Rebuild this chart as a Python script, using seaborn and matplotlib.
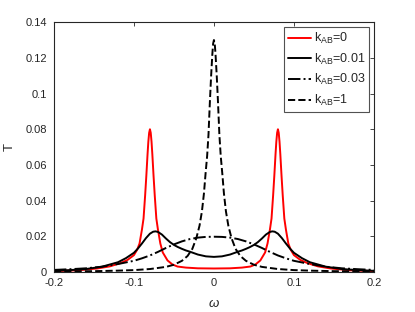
import matplotlib
matplotlib.use("Agg")
import matplotlib.pyplot as plt
import seaborn as sns
import pandas as pd

# ---- data ----
omega_k0 = [-0.2, -0.17, -0.146, -0.13, -0.117, -0.108, -0.1, -0.096, -0.093, -0.09, -0.088, -0.086,
            -0.0845, -0.083, -0.082, -0.081, -0.08, -0.079, -0.078, -0.077, -0.0755, -0.074, -0.072,
            -0.07, -0.067, -0.064, -0.058, -0.052, -0.0456, -0.035, -0.02, 0.0,
            0.02, 0.035, 0.0456, 0.052, 0.058, 0.064, 0.067, 0.07, 0.072, 0.074, 0.0755, 0.077,
            0.078, 0.079, 0.08, 0.081, 0.082, 0.083, 0.0845, 0.086, 0.088, 0.09, 0.093, 0.096,
            0.1, 0.108, 0.117, 0.13, 0.146, 0.17, 0.2]
T_k0 = [0.0005, 0.001, 0.002, 0.0032, 0.005, 0.0068, 0.0095, 0.0125, 0.016, 0.0238, 0.030, 0.043,
        0.054, 0.066, 0.073, 0.078, 0.080, 0.078, 0.073, 0.066, 0.054, 0.043, 0.030,
        0.0238, 0.016, 0.011, 0.0065, 0.0043, 0.0031, 0.0025, 0.0021, 0.002,
        0.0021, 0.0025, 0.0031, 0.0043, 0.0065, 0.011, 0.016, 0.0238, 0.030, 0.043, 0.054, 0.066,
        0.073, 0.078, 0.080, 0.078, 0.073, 0.066, 0.054, 0.043, 0.030, 0.0238, 0.016, 0.0125,
        0.0095, 0.0068, 0.005, 0.0032, 0.002, 0.001, 0.0005]

omega_k001 = [-0.2, -0.18, -0.16, -0.14, -0.12, -0.11, -0.1, -0.095, -0.09, -0.085, -0.08, -0.076,
              -0.073, -0.07, -0.065, -0.06, -0.055, -0.05, -0.045, -0.04, -0.035, -0.03, -0.02,
              -0.01, 0.0, 0.01, 0.02, 0.03, 0.035, 0.04, 0.045, 0.05, 0.055, 0.06, 0.065, 0.07,
              0.073, 0.076, 0.08, 0.085, 0.09, 0.095, 0.1, 0.11, 0.12, 0.14, 0.16, 0.18, 0.2]
T_k001 = [0.0007, 0.0011, 0.0017, 0.003, 0.0055, 0.0078, 0.0108, 0.0132, 0.016, 0.019, 0.0215, 0.0226,
          0.0228, 0.0225, 0.021, 0.0188, 0.0168, 0.0152, 0.014, 0.013, 0.0121, 0.0114, 0.0098,
          0.0088, 0.0085, 0.0088, 0.0098, 0.0114, 0.0121, 0.013, 0.014, 0.0152, 0.0168, 0.0188,
          0.021, 0.0225, 0.0228, 0.0226, 0.0215, 0.019, 0.016, 0.0132, 0.0108, 0.0078, 0.0055,
          0.003, 0.0017, 0.0011, 0.0007]

omega_k003 = [-0.2, -0.18, -0.16, -0.14, -0.12, -0.1, -0.09, -0.08, -0.07, -0.06, -0.05, -0.04,
              -0.03, -0.02, -0.01, 0.0, 0.01, 0.02, 0.03, 0.04, 0.05, 0.06, 0.07, 0.08, 0.09,
              0.1, 0.12, 0.14, 0.16, 0.18, 0.2]
T_k003 = [0.0012, 0.0016, 0.0021, 0.003, 0.0045, 0.0063, 0.0077, 0.0093, 0.0113, 0.0135, 0.0155,
          0.0172, 0.0185, 0.0193, 0.0197, 0.0198, 0.0197, 0.0193, 0.0185, 0.0172, 0.0155, 0.0135,
          0.0113, 0.0093, 0.0077, 0.0063, 0.0045, 0.003, 0.0021, 0.0016, 0.0012]

omega_k1 = [-0.2, -0.15, -0.12, -0.1, -0.08, -0.06, -0.05, -0.04, -0.033, -0.027, -0.022, -0.018,
            -0.015, -0.0125, -0.0105, -0.0085, -0.0068, -0.005, -0.0035, -0.002, -0.001, 0.0,
            0.001, 0.002, 0.0035, 0.005, 0.0068, 0.0085, 0.0105, 0.0125, 0.015, 0.018, 0.022,
            0.027, 0.033, 0.04, 0.05, 0.06, 0.08, 0.1, 0.12, 0.15, 0.2]
T_k1 = [0.0003, 0.0005, 0.0008, 0.0011, 0.0017, 0.0029, 0.0041, 0.0063, 0.009, 0.013, 0.019, 0.026,
        0.034, 0.044, 0.055, 0.065, 0.077, 0.096, 0.110, 0.122, 0.128, 0.130,
        0.128, 0.122, 0.110, 0.096, 0.077, 0.065, 0.055, 0.044, 0.034, 0.026, 0.019,
        0.013, 0.009, 0.0063, 0.0041, 0.0029, 0.0017, 0.0011, 0.0008, 0.0005, 0.0003]

labels = [r"k$_{\mathrm{AB}}$=0", r"k$_{\mathrm{AB}}$=0.01",
          r"k$_{\mathrm{AB}}$=0.03", r"k$_{\mathrm{AB}}$=1"]
x_ticks = [-0.2, -0.1, 0, 0.1, 0.2]
x_tick_labels = ["-0.2", "-0.1", "0", "0.1", "0.2"]
y_ticks = [0, 0.02, 0.04, 0.06, 0.08, 0.1, 0.12, 0.14]
y_tick_labels = ["0", "0.02", "0.04", "0.06", "0.08", "0.1", "0.12", "0.14"]

# ---- styling ----
sns.set_style("white")
plt.rcParams["font.family"] = ["Liberation Sans", "DejaVu Sans"]
plt.rcParams["mathtext.fontset"] = "custom"
plt.rcParams["mathtext.rm"] = "Liberation Sans"
plt.rcParams["mathtext.it"] = "Liberation Sans:italic"

fig = plt.figure(figsize=(4.15, 3.12), dpi=100)
ax = fig.add_axes([0.130, 0.128, 0.771, 0.801])

series = [
    (omega_k0, T_k0, labels[0], "#ff0000", "-"),
    (omega_k001, T_k001, labels[1], "black", "-"),
    (omega_k003, T_k003, labels[2], "black", "-."),
    (omega_k1, T_k1, labels[3], "black", "--"),
]
for xs, ys, lab, col, ls in series:
    df = pd.DataFrame({"omega": xs, "T": ys})
    sns.lineplot(data=df, x="omega", y="T", ax=ax, color=col, linestyle=ls,
                 linewidth=1.4, label=lab, estimator=None, sort=False)

ax.set_xlim(-0.2, 0.2)
ax.set_ylim(0, 0.14)
ax.set_xticks(x_ticks)
ax.set_xticklabels(x_tick_labels)
ax.set_yticks(y_ticks)
ax.set_yticklabels(y_tick_labels)
ax.set_xlabel(r"$\omega$", fontsize=9.5, color="#262626", labelpad=7)
ax.set_ylabel("T", fontsize=9.5, color="#262626", labelpad=7)

ax.tick_params(axis="both", which="both", direction="in", length=3, width=0.6,
               top=True, right=True, labelsize=8, colors="#262626")
ax.tick_params(axis="x", pad=4.5)
ax.tick_params(axis="y", pad=5)
for sp in ax.spines.values():
    sp.set_visible(True)
    sp.set_color("#262626")
    sp.set_linewidth(0.8)

leg = ax.legend(loc="upper right", fontsize=9, frameon=True, fancybox=False,
                edgecolor="#262626", borderaxespad=0.4, handlelength=1.8,
                handletextpad=0.25, labelspacing=0.45, borderpad=0.3)
leg.get_frame().set_linewidth(0.8)

fig.savefig("out.png", dpi=100)
